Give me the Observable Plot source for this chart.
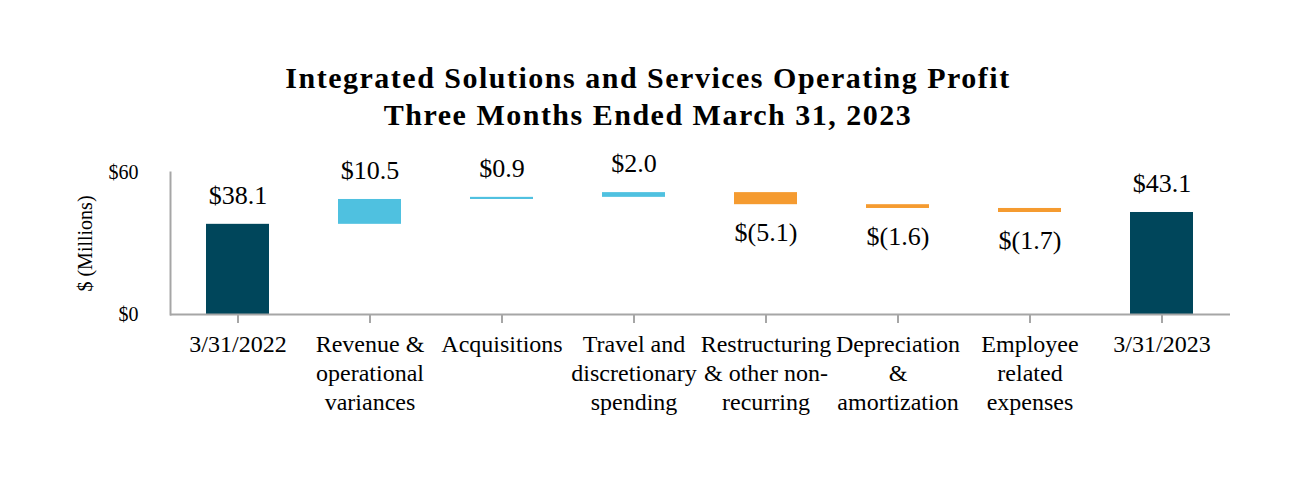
<!DOCTYPE html>
<html>
<head>
<meta charset="utf-8">
<script src="https://cdn.jsdelivr.net/npm/d3@7"></script>
<script src="https://cdn.jsdelivr.net/npm/@observablehq/plot@0.6"></script>
<style>
  html, body { margin: 0; padding: 0; background: #fff; }
  #wrap { width: 1296px; height: 480px; overflow: hidden; }
  #title {
    box-sizing: border-box; height: 134px; padding-top: 59px;
    font-family: "Liberation Serif", "Times New Roman", serif; font-weight: bold;
    font-size: 30px; line-height: 37px; letter-spacing: 1.5px;
    text-align: center; color: #000;
  }
</style>
</head>
<body>
<div id="wrap">
  <div id="title">Integrated Solutions and Services Operating Profit<br>Three Months Ended March 31, 2023</div>
  <div id="chart"></div>
</div>
<script>
const categories = ["3/31/2022", "Revenue & operational variances", "Acquisitions", "Travel and discretionary spending", "Restructuring & other non-recurring", "Depreciation & amortization", "Employee related expenses", "3/31/2023"];
const tickLabels = ["3/31/2022", "Revenue &\noperational\nvariances", "Acquisitions", "Travel and\ndiscretionary\nspending", "Restructuring\n& other non-\nrecurring", "Depreciation\n&\namortization", "Employee\nrelated\nexpenses", "3/31/2023"];
const values = [38.1, 10.5, 0.9, 2.0, -5.1, -1.6, -1.7, 43.1];
const kinds = ["total", "increase", "increase", "increase", "decrease", "decrease", "decrease", "total"];
const valueLabels = ["$38.1", "$10.5", "$0.9", "$2.0", "$(5.1)", "$(1.6)", "$(1.7)", "$43.1"];
const yTicks = [0, 60];
const yTickLabels = ["$0", "$60"];

const colors = {total: "#00465b", increase: "#4fc1e0", decrease: "#f59b30"};

let running = 0;
const rows = categories.map((c, i) => {
  let y1, y2;
  if (kinds[i] === "total") { y1 = 0; y2 = values[i]; running = values[i]; }
  else { y1 = running; y2 = running + values[i]; running = y2; }
  return {cat: c, tick: tickLabels[i], y1, y2, top: Math.max(y1, y2), bottom: Math.min(y1, y2), kind: kinds[i], label: valueLabels[i], neg: values[i] < 0};
});
const tickMap = new Map(categories.map((c, i) => [c, tickLabels[i]]));
const yMap = new Map(yTicks.map((t, i) => [t, yTickLabels[i]]));

const chart = Plot.plot({
  width: 1296,
  height: 346,
  marginTop: 38,
  marginBottom: 166,
  marginLeft: 170,
  marginRight: 66,
  style: {fontFamily: "'Liberation Serif', 'Times New Roman', serif", color: "#000", background: "#fff"},
  x: {domain: categories, paddingInner: 0.52, paddingOuter: 0.26},
  y: {domain: [0, 60]},
  marks: [
    Plot.barY(rows, {x: "cat", y1: "y1", y2: "y2", fill: d => colors[d.kind], insetLeft: 0, insetRight: 0}),
    Plot.ruleY([0], {stroke: "#a6a6a6", strokeWidth: 2}),
    Plot.frame({anchor: "left", stroke: "#a6a6a6", strokeWidth: 2}),
    Plot.axisX({tickSize: 9, tickPadding: 8, tickFormat: d => tickMap.get(d), fontSize: 24, lineHeight: 1.2, stroke: "#a6a6a6", strokeWidth: 2, fill: "#000", label: null}),
    Plot.axisY({ticks: yTicks, tickSize: 0, tickPadding: 32, tickFormat: d => yMap.get(d), fontSize: 20, fill: "#000", label: "$ (Millions)", labelArrow: "none", labelAnchor: "center", labelOffset: 93}),
    Plot.text(rows.filter(d => !d.neg), {x: "cat", y: "top", text: "label", dy: -29, fontSize: 26, fill: "#000"}),
    Plot.text(rows.filter(d => d.neg), {x: "cat", y: "bottom", text: "label", dy: 28, fontSize: 26, fill: "#000"})
  ]
});
document.getElementById("chart").appendChild(chart);
</script>
</body>
</html>
